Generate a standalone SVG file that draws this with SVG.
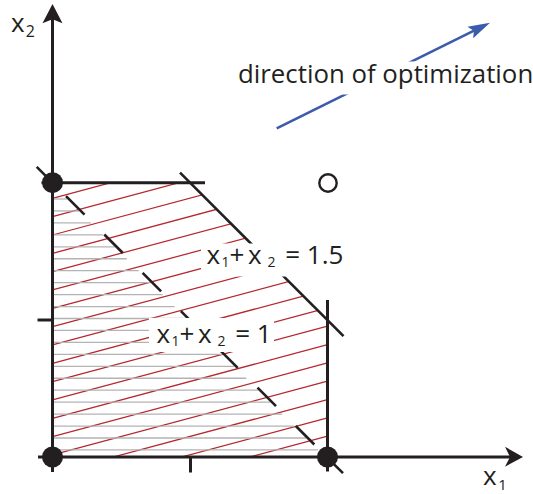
<svg xmlns="http://www.w3.org/2000/svg" width="533" height="494" viewBox="0 0 533 494">
<style>
.ax{stroke:#231f20;stroke-width:3;fill:none}
.ln{stroke:#231f20;stroke-width:2.6;fill:none}
.hatch{stroke:#b5282e;stroke-width:1.25}
.gray{stroke:#b3b3b3;stroke-width:1.3}
.t{font-family:"Open Sans","Noto Sans",sans-serif;fill:#231f20}
.m{font-size:26px}
.s{font-size:14px}
.knock{fill:#ffffff}
</style>
<defs>
<clipPath id="feas"><polygon points="52.5,182.7 190,182.7 327.5,320.2 327.5,457 52.5,457"/></clipPath>
</defs>
<rect width="533" height="494" fill="#ffffff"/>
<g id="feasible-region" clip-path="url(#feas)">
<g class="hatch">
<line x1="52.5" y1="198.3" x2="327.5" y2="124.6"/>
<line x1="52.5" y1="216.6" x2="327.5" y2="142.9"/>
<line x1="52.5" y1="235" x2="327.5" y2="161.3"/>
<line x1="52.5" y1="253.3" x2="327.5" y2="179.6"/>
<line x1="52.5" y1="271.6" x2="327.5" y2="197.9"/>
<line x1="52.5" y1="289.95" x2="327.5" y2="216.25"/>
<line x1="52.5" y1="308.3" x2="327.5" y2="234.6"/>
<line x1="52.5" y1="326.6" x2="327.5" y2="252.9"/>
<line x1="52.5" y1="344.9" x2="327.5" y2="271.2"/>
<line x1="52.5" y1="363.3" x2="327.5" y2="289.6"/>
<line x1="52.5" y1="381.6" x2="327.5" y2="307.9"/>
<line x1="52.5" y1="399.9" x2="327.5" y2="326.2"/>
<line x1="52.5" y1="418.3" x2="327.5" y2="344.6"/>
<line x1="52.5" y1="436.6" x2="327.5" y2="362.9"/>
<line x1="52.5" y1="454.9" x2="327.5" y2="381.2"/>
<line x1="52.5" y1="473.3" x2="327.5" y2="399.6"/>
<line x1="52.5" y1="491.6" x2="327.5" y2="417.9"/>
<line x1="52.5" y1="509.9" x2="327.5" y2="436.2"/>
<line x1="52.5" y1="528.2" x2="327.5" y2="454.5"/>
</g>
</g>
<g id="gray-fill" class="gray">
<line x1="52.5" y1="199" x2="67" y2="199"/>
<line x1="52.5" y1="210.95" x2="79" y2="210.95"/>
<line x1="52.5" y1="222.9" x2="90.9" y2="222.9"/>
<line x1="52.5" y1="234.85" x2="102.9" y2="234.85"/>
<line x1="52.5" y1="246.8" x2="114.8" y2="246.8"/>
<line x1="52.5" y1="258.75" x2="126.8" y2="258.75"/>
<line x1="52.5" y1="270.7" x2="138.7" y2="270.7"/>
<line x1="52.5" y1="282.65" x2="150.7" y2="282.65"/>
<line x1="52.5" y1="294.6" x2="162.6" y2="294.6"/>
<line x1="52.5" y1="306.55" x2="174.6" y2="306.55"/>
<line x1="52.5" y1="318.5" x2="186.5" y2="318.5"/>
<line x1="52.5" y1="330.45" x2="198.5" y2="330.45"/>
<line x1="52.5" y1="342.4" x2="210.4" y2="342.4"/>
<line x1="52.5" y1="354.35" x2="222.4" y2="354.35"/>
<line x1="52.5" y1="366.3" x2="234.3" y2="366.3"/>
<line x1="52.5" y1="378.25" x2="246.3" y2="378.25"/>
<line x1="52.5" y1="390.2" x2="258.2" y2="390.2"/>
<line x1="52.5" y1="402.15" x2="270.2" y2="402.15"/>
<line x1="52.5" y1="414.1" x2="282.1" y2="414.1"/>
<line x1="52.5" y1="426.05" x2="294.1" y2="426.05"/>
<line x1="52.5" y1="438" x2="306" y2="438"/>
<line x1="52.5" y1="449.95" x2="318" y2="449.95"/>
</g>
<g id="connectors">
<path id="line-x1x2-1" class="ln" d="M36.7,166.9 L46.2,176.4 M66,196.2 L84.5,214.7 M104.3,234.5 L122.8,253 M142.6,272.8 L161.1,291.3 M180.9,311.1 L199.4,329.6 M219.2,349.4 L237.7,367.9 M257.5,387.7 L276,406.2 M295.8,426 L314.3,444.5 M334.1,464.3 L343,473.2"/>
<line id="line-x1x2-15" class="ln" x1="180" y1="172.7" x2="343.5" y2="336.2"/>
<g id="direction-arrow">
<line x1="276.7" y1="128.3" x2="474" y2="30.7" stroke="#3b5bab" stroke-width="2.6"/>
<polygon points="490,22.7 473.2,38.3 473.9,30.7 467.4,26.7" fill="#3b5bab"/>
</g>
</g>
<g id="knockouts" class="knock">
<rect x="149" y="318" width="125" height="34"/>
<rect x="201" y="243.5" width="147" height="33"/>
<rect x="236" y="61.5" width="297" height="33"/>
</g>
<g id="axes">
<line class="ax" x1="52.5" y1="472" x2="52.5" y2="18"/>
<polygon points="52.5,4 62.5,23.3 52.5,19.3 42.5,23.3" fill="#231f20"/>
<line class="ax" x1="38" y1="457" x2="510" y2="457"/>
<polygon points="523,457 505,466.7 510,457 505,446.7" fill="#231f20"/>
<line class="ax" x1="37.5" y1="320" x2="52.5" y2="320"/>
<line class="ax" x1="190.5" y1="457" x2="190.5" y2="472.5"/>
</g>
<g id="boundary">
<line class="ax" x1="41.5" y1="182.7" x2="205" y2="182.7"/>
<line class="ax" x1="327.5" y1="300" x2="327.5" y2="471.5"/>
</g>
<g id="vertex-00"><circle cx="52.5" cy="457" r="10.5" fill="#231f20"/></g>
<g id="vertex-01"><circle cx="52.5" cy="182.7" r="10.5" fill="#231f20"/></g>
<g id="vertex-10"><circle cx="327.5" cy="457" r="10.5" fill="#231f20"/></g>
<g id="vertex-11"><circle cx="328" cy="183" r="8.7" fill="none" stroke="#231f20" stroke-width="2.4"/></g>
<g id="labels">
<text class="t m" x="11" y="31.7">x<tspan style="font-size:16px" x="25.8" y="36.7">2</tspan></text>
<text class="t m" x="483" y="485">x<tspan style="font-size:15px" x="498.3" y="489.5">1</tspan></text>
<text class="t" style="font-size:25.8px" x="238" y="83.3">direction of optimization</text>
<text class="t m" y="264.3"><tspan x="206.4">x</tspan><tspan class="s" x="221.6" y="267.3">1</tspan><tspan x="229.4" y="264.3">+</tspan><tspan x="248">x</tspan><tspan class="s" x="267.5" y="267.3">2</tspan><tspan x="285.2" y="264.3">= 1.5</tspan></text>
<text class="t m" y="342.7"><tspan x="156.4">x</tspan><tspan class="s" x="171.6" y="345.7">1</tspan><tspan x="179.4" y="342.7">+</tspan><tspan x="198">x</tspan><tspan class="s" x="217.5" y="345.7">2</tspan><tspan x="235.2" y="342.7">= 1</tspan></text>
</g>
</svg>
